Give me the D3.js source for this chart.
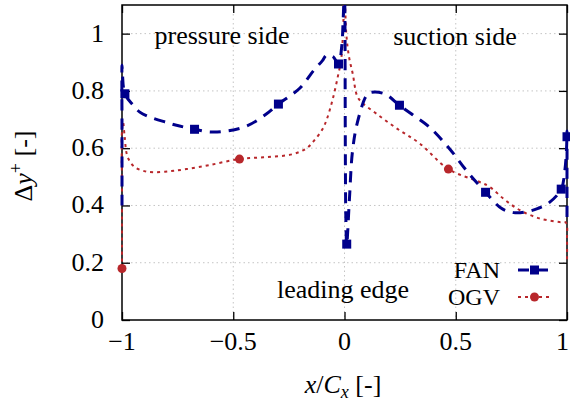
<!DOCTYPE html>
<html>
<head>
<meta charset="utf-8">
<script src="https://cdn.jsdelivr.net/npm/d3@7"></script>
<style>
  html, body { margin: 0; padding: 0; background: #fff; font-family: "Liberation Serif", "Times New Roman", Times, serif; }
  svg { display: block; }
  svg text, svg tspan { font-family: "Liberation Serif", "Times New Roman", Times, serif !important; }
</style>
</head>
<body>
<svg id="chart" width="570" height="411"></svg>
<script>
// Wall resolution Δy+ around the blade, pressure side (x<0) to suction side (x>0)
const fanX = [-1.0, -1.0, -1.0, -0.998, -0.987, -0.95, -0.92, -0.876, -0.8, -0.755, -0.674, -0.607, -0.53, -0.44, -0.35, -0.297, -0.2, -0.14, -0.1, -0.08, -0.052, -0.027, -0.012, -0.006, 0.0, 0.002, 0.003, 0.004, 0.006, 0.01, 0.022, 0.036, 0.058, 0.1, 0.12, 0.18, 0.247, 0.3, 0.38, 0.47, 0.55, 0.634, 0.705, 0.76, 0.82, 0.87, 0.92, 0.974, 0.99, 0.998, 1.0, 1.0, 1.0];
const fanY = [0.40, 0.65, 0.89, 0.86, 0.79, 0.75, 0.726, 0.709, 0.69, 0.68, 0.666, 0.657, 0.66, 0.677, 0.72, 0.754, 0.81, 0.87, 0.905, 0.925, 0.92, 0.894, 0.96, 1.05, 1.15, 1.05, 0.8, 0.55, 0.36, 0.265, 0.42, 0.59, 0.69, 0.785, 0.795, 0.79, 0.75, 0.72, 0.675, 0.60, 0.52, 0.446, 0.39, 0.375, 0.378, 0.39, 0.41, 0.457, 0.52, 0.6, 0.66, 0.5, 0.35];
const fanMarkX = [-0.987, -0.674, -0.297, -0.027, 0.01, 0.247, 0.634, 0.974, 1.0];
const fanMarkY = [0.79, 0.666, 0.754, 0.894, 0.265, 0.75, 0.446, 0.457, 0.64];

const ogvX = [-1.0, -1.0, -1.0, -0.995, -0.988, -0.975, -0.945, -0.9, -0.854, -0.78, -0.71, -0.607, -0.472, -0.35, -0.233, -0.17, -0.135, -0.1, -0.08, -0.054, -0.03, -0.015, -0.007, 0.0, 0.008, 0.02, 0.037, 0.058, 0.082, 0.144, 0.233, 0.337, 0.467, 0.607, 0.652, 0.72, 0.787, 0.876, 0.966, 0.995, 1.0, 1.0];
const ogvY = [0.18, 0.45, 0.66, 0.69, 0.64, 0.57, 0.535, 0.52, 0.516, 0.52, 0.527, 0.541, 0.562, 0.569, 0.579, 0.60, 0.628, 0.665, 0.70, 0.768, 0.85, 0.91, 1.0, 1.15, 1.0, 0.92, 0.86, 0.78, 0.757, 0.72, 0.67, 0.617, 0.527, 0.482, 0.465, 0.42, 0.384, 0.355, 0.342, 0.34, 0.28, 0.20];
const ogvMarkX = [-1.0, -0.472, 0.467];
const ogvMarkY = [0.18, 0.562, 0.527];

const xTicks = [-1, -0.5, 0, 0.5, 1];
const xTickLabels = ["\u22121", "\u22120.5", "0", "0.5", "1"];
const yTicks = [0, 0.2, 0.4, 0.6, 0.8, 1];
const yTickLabels = ["0", "0.2", "0.4", "0.6", "0.8", "1"];

const FAN_COLOR = "#00008b";
const OGV_COLOR = "#b8272b";
const FONT = "Liberation Serif";
const FONT_SIZE = 26;

const svg = d3.select("#chart").attr("font-family", FONT);
const L = 122, R = 567, T = 5, B = 320;
const x = d3.scaleLinear().domain([-1, 1]).range([L, R]);
const y = d3.scaleLinear().domain([0, 1.1]).range([B, T]);

// every label is drawn through this helper so they share one face
function label(sel, px, py, txt, anchor, size) {
  return sel.append("text").attr("x", px).attr("y", py).attr("text-anchor", anchor || "middle")
    .attr("font-family", FONT).attr("font-size", size || FONT_SIZE).attr("fill", "#000").text(txt);
}

// lines are clipped to the frame, leaving room for half a stroke on the border
svg.append("defs").append("clipPath").attr("id", "plotClip")
  .append("rect").attr("x", L - 2).attr("y", T).attr("width", R - L + 4).attr("height", B - T + 2);

// grid
const grid = svg.append("g").attr("stroke", "#c4c4c4").attr("stroke-width", 1).attr("stroke-dasharray", "1.5,3");
grid.selectAll("line.gx").data(xTicks.filter(d => d > -1 && d < 1)).join("line")
  .attr("x1", d => x(d)).attr("x2", d => x(d)).attr("y1", T).attr("y2", B);
grid.selectAll("line.gy").data(yTicks.filter(d => d > 0)).join("line")
  .attr("x1", L).attr("x2", R).attr("y1", d => y(d)).attr("y2", d => y(d));

// axes: inward ticks on all four sides, labels written separately
const tickLen = 8;
const axB = svg.append("g").attr("transform", `translate(0,${B})`)
  .call(d3.axisBottom(x).tickValues(xTicks).tickSize(-tickLen).tickFormat(""));
const axT = svg.append("g").attr("transform", `translate(0,${T})`)
  .call(d3.axisTop(x).tickValues(xTicks).tickSize(-tickLen).tickFormat(""));
const axL = svg.append("g").attr("transform", `translate(${L},0)`)
  .call(d3.axisLeft(y).tickValues(yTicks).tickSize(-tickLen).tickFormat(""));
const axR = svg.append("g").attr("transform", `translate(${R},0)`)
  .call(d3.axisRight(y).tickValues(yTicks).tickSize(-tickLen).tickFormat(""));
[axB, axT, axL, axR].forEach(a => {
  a.select(".domain").remove();
  a.selectAll(".tick text").remove();
  a.selectAll(".tick line").attr("stroke", "#000").attr("stroke-width", 1.3);
});

// frame sits under the data so the curves on the edges stay visible
svg.append("rect").attr("x", L).attr("y", T).attr("width", R - L).attr("height", B - T)
  .attr("fill", "none").attr("stroke", "#000").attr("stroke-width", 1.5);

const xLab = svg.append("g");
xTicks.forEach((d, i) => {
  const t = label(xLab, x(d), 350, xTickLabels[i]);
  if (d === 1) t.attr("text-anchor", "end").attr("x", x(d) + 2);
});
const yLab = svg.append("g");
yTicks.forEach((d, i) => label(yLab, 104, y(d) + 8, yTickLabels[i], "end"));

// curves
const line = d3.line().x(d => x(d[0])).y(d => y(d[1])).curve(d3.curveCatmullRom.alpha(0.5));
const fanPts = fanX.map((v, i) => [v, fanY[i]]);
const ogvPts = ogvX.map((v, i) => [v, ogvY[i]]);
const curves = svg.append("g").attr("clip-path", "url(#plotClip)");
curves.append("path").datum(ogvPts).attr("d", line).attr("fill", "none")
  .attr("stroke", OGV_COLOR).attr("stroke-width", 2).attr("stroke-dasharray", "3,4");
curves.append("path").datum(fanPts).attr("d", line).attr("fill", "none")
  .attr("stroke", FAN_COLOR).attr("stroke-width", 3).attr("stroke-dasharray", "11,8");

// markers
svg.append("g").selectAll("circle").data(ogvMarkX.map((v, i) => [v, ogvMarkY[i]])).join("circle")
  .attr("cx", d => x(d[0])).attr("cy", d => y(d[1])).attr("r", 4.5).attr("fill", OGV_COLOR);
const sq = 9;
svg.append("g").selectAll("rect").data(fanMarkX.map((v, i) => [v, fanMarkY[i]])).join("rect")
  .attr("x", d => x(d[0]) - sq / 2).attr("y", d => y(d[1]) - sq / 2)
  .attr("width", sq).attr("height", sq).attr("fill", FAN_COLOR);

// annotations
const ann = svg.append("g");
label(ann, 222, 44, "pressure side");
label(ann, 455, 45, "suction side");
label(ann, 343, 298, "leading edge");

// legend
const leg = svg.append("g");
const legendRows = [
  { name: "FAN", color: FAN_COLOR, y: 270, kind: "square" },
  { name: "OGV", color: OGV_COLOR, y: 297, kind: "circle" }
];
legendRows.forEach(r => {
  label(leg, 500, r.y + 8, r.name, "end", 24);
  if (r.kind === "square") {
    leg.append("line").attr("x1", 518).attr("x2", 551).attr("y1", r.y).attr("y2", r.y)
      .attr("stroke", r.color).attr("stroke-width", 3).attr("stroke-dasharray", "11,8");
    leg.append("rect").attr("x", 534.5 - sq / 2).attr("y", r.y - sq / 2).attr("width", sq).attr("height", sq).attr("fill", r.color);
  } else {
    leg.append("line").attr("x1", 518).attr("x2", 551).attr("y1", r.y).attr("y2", r.y)
      .attr("stroke", r.color).attr("stroke-width", 2).attr("stroke-dasharray", "3,4");
    leg.append("circle").attr("cx", 534.5).attr("cy", r.y).attr("r", 4.5).attr("fill", r.color);
  }
});

// axis titles
const xt = label(svg, 343, 393, null);
xt.append("tspan").attr("font-style", "italic").text("x");
xt.append("tspan").text("/");
xt.append("tspan").attr("font-style", "italic").text("C");
xt.append("tspan").attr("font-style", "italic").attr("font-size", 18).attr("dy", 5).text("x");
xt.append("tspan").attr("dy", -5).text(" [-]");

const yt = label(svg, 0, 0, null).attr("transform", "translate(32,166) rotate(-90)");
yt.append("tspan").text("\u0394");
yt.append("tspan").attr("font-style", "italic").text("y");
yt.append("tspan").attr("font-size", 18).attr("dy", -10).text("+");
yt.append("tspan").attr("dy", 10).text(" [-]");
</script>
</body>
</html>
